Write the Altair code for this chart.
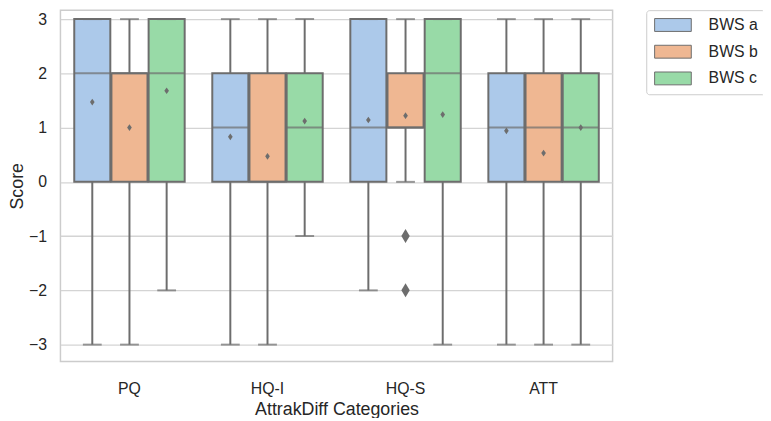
import altair as alt
import pandas as pd

categories = ["PQ", "HQ-I", "HQ-S", "ATT"]
groups = ["BWS a", "BWS b", "BWS c"]
colors = ["#acc9ea", "#efb792", "#98daa7"]

# per category, groups a, b, c
q1 = [0, 0, 0, 0, 0, 0, 0, 1, 0, 0, 0, 0]
med = [2, 2, 2, 1, 0, 1, 1, 1, 2, 1, 1, 1]
q3 = [3, 2, 3, 2, 2, 2, 3, 2, 3, 2, 2, 2]
lo = [-3, -3, -2, -3, -3, -1, -2, 0, -3, -3, -3, -3]
hi = [3, 3, 3, 3, 3, 3, 3, 3, 3, 3, 3, 3]
means = [1.47, 1.0, 1.68, 0.83, 0.47, 1.12, 1.14, 1.22, 1.24, 0.94, 0.53, 1.0]

out_cat = ["HQ-S", "HQ-S"]
out_grp = ["BWS b", "BWS b"]
out_val = [-1, -2]

cat_col = [c for c in categories for _ in groups]
grp_col = [g for _ in categories for g in groups]
df = pd.DataFrame({"cat": cat_col, "grp": grp_col, "q1": q1, "med": med,
                   "q3": q3, "lo": lo, "hi": hi, "mean": means})
df_out = pd.DataFrame({"cat": out_cat, "grp": out_grp, "val": out_val})

gray = "#6d6d6d"
txt = "#262626"
ydom = [-3.31, 3.165]

xenc = alt.X("cat:N", sort=categories,
             scale=alt.Scale(paddingInner=0.2, paddingOuter=0.1),
             axis=alt.Axis(title="AttrakDiff Categories", labelAngle=0, ticks=False,
                           domain=False, grid=False, labelPadding=19, titlePadding=5,
                           labelFontSize=16, titleFontSize=18, labelColor=txt,
                           titleColor=txt, titleFontWeight="normal"))
xoff = alt.XOffset("grp:N", sort=groups, scale=alt.Scale(paddingInner=0.03, paddingOuter=0))

yaxis = alt.Axis(title="Score", values=[-3, -2, -1, 0, 1, 2, 3], ticks=False, domain=False,
                 grid=True, gridColor="#d4d4d4", gridWidth=1.3, labelPadding=14,
                 titlePadding=2, labelFontSize=16, titleFontSize=18, labelColor=txt,
                 titleColor=txt, titleFontWeight="normal")


def yenc(field):
    return alt.Y(field, type="quantitative", scale=alt.Scale(domain=ydom, nice=False, zero=False),
                 axis=yaxis)


base = alt.Chart(df)

lower = base.mark_rule(color=gray, strokeWidth=2).encode(
    x=xenc, xOffset=xoff, y=yenc("lo"), y2="q1")
upper = base.mark_rule(color=gray, strokeWidth=2).encode(
    x=xenc, xOffset=xoff, y=yenc("q3"), y2="hi")

box = base.mark_bar(stroke=gray, strokeWidth=2, opacity=1).encode(
    x=xenc, xOffset=xoff, y=yenc("q1"), y2="q3",
    color=alt.Color("grp:N", sort=groups, scale=alt.Scale(domain=groups, range=colors),
                    legend=alt.Legend(title=None, orient="none", legendX=592, legendY=0,
                                      symbolType="M-2.85,-1L2.85,-1L2.85,1L-2.85,1Z",
                                      symbolSize=169, symbolOffset=12,
                                      symbolStrokeColor=gray,
                                      symbolStrokeWidth=1, labelFontSize=16,
                                      labelColor=txt, labelOffset=28,
                                      rowPadding=9, padding=7, strokeColor="#cccccc",
                                      fillColor="white", cornerRadius=3)))

median = base.mark_tick(color=gray, thickness=2, size=36, orient="horizontal").encode(
    x=xenc, xOffset=xoff, y=yenc("med"))
cap_lo = base.mark_tick(color=gray, thickness=2, size=19, orient="horizontal").encode(
    x=xenc, xOffset=xoff, y=yenc("lo"))
cap_hi = base.mark_tick(color=gray, thickness=2, size=19, orient="horizontal").encode(
    x=xenc, xOffset=xoff, y=yenc("hi"))

diamond = "M0,-1L0.7,0L0,1L-0.7,0Z"
mean_pts = base.mark_point(shape=diamond, filled=True, color=gray, size=45, opacity=1).encode(
    x=xenc, xOffset=xoff, y=yenc("mean"))

outliers = alt.Chart(df_out).mark_point(shape="M0,-1L0.6,0L0,1L-0.6,0Z", filled=True,
                                        color=gray, size=200, opacity=1).encode(
    x=xenc, xOffset=xoff, y=yenc("val"))

chart = alt.layer(lower, upper, box, median, cap_lo, cap_hi, mean_pts, outliers).properties(
    width=558, height=355,
    autosize=alt.AutoSizeParams(type="none"),
    padding={"left": 53, "top": 0, "right": 152, "bottom": 55},
).configure(font="Liberation Sans").configure_view(stroke="#cccccc", strokeWidth=1.5)

chart.save("out.html", embed_options={"renderer": "svg", "actions": False})
